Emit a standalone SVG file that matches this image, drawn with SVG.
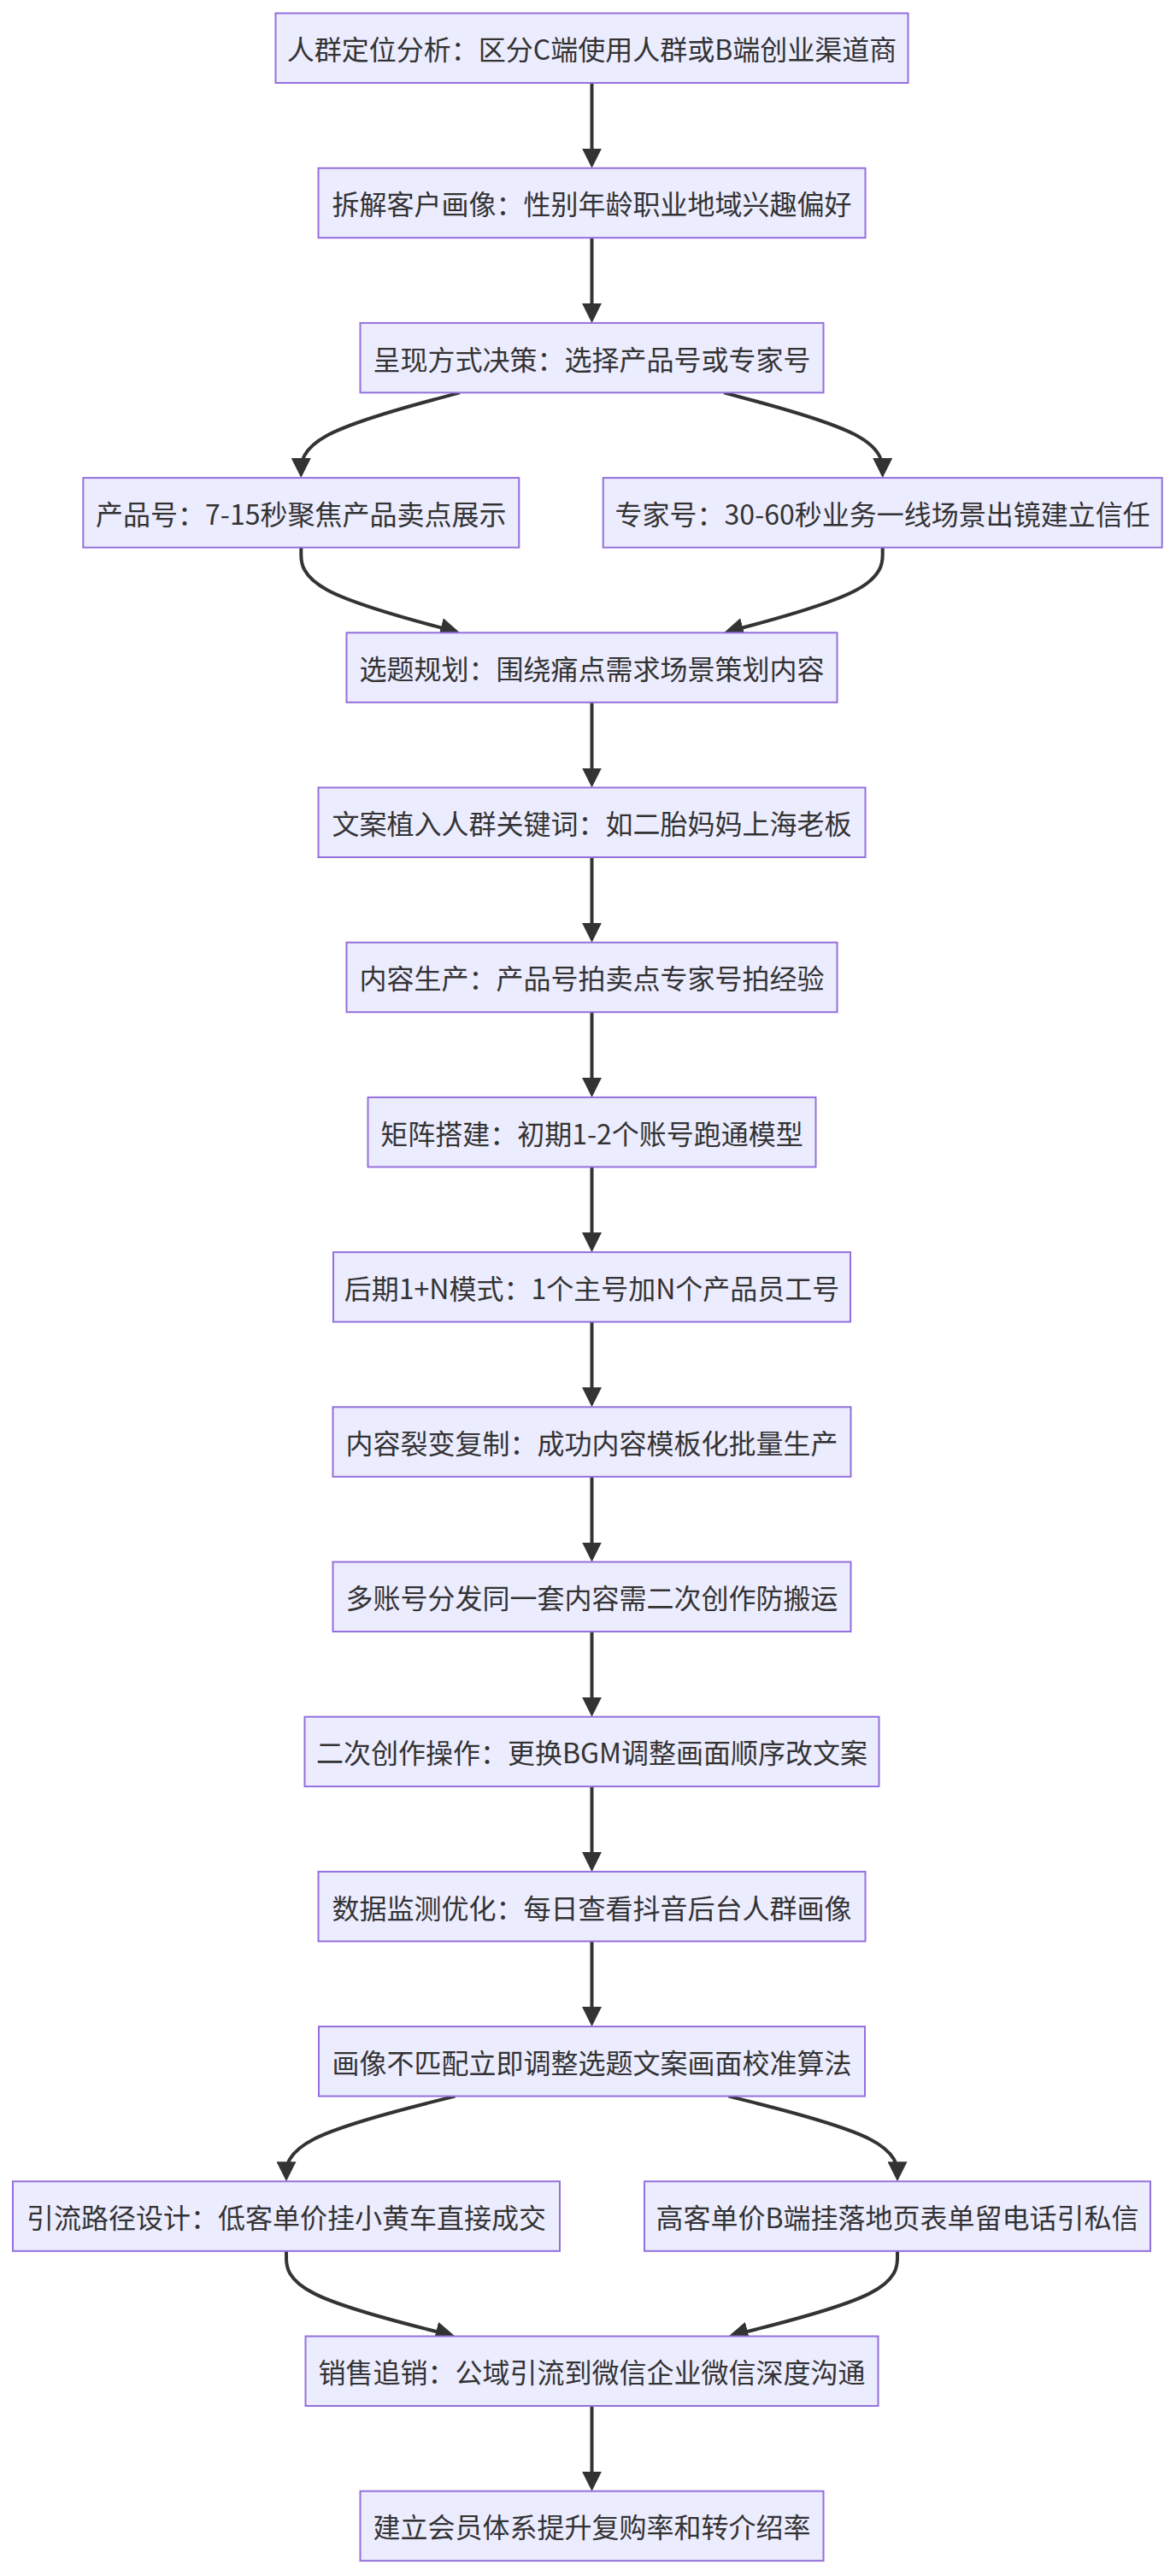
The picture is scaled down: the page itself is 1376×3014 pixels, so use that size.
<svg xmlns="http://www.w3.org/2000/svg" width="1376" height="3014" viewBox="0 0 1376 3014">
<style>
.node rect{fill:#ECECFF;stroke:#9370DB;stroke-width:2}
.node text{font-family:"Noto Sans CJK SC","Noto Sans",sans-serif;font-size:32px;fill:#333333;text-anchor:middle;dominant-baseline:central}
.edges path{fill:none;stroke:#333333;stroke-width:4;marker-end:url(#arrow)}
</style>
<defs>
<marker id="arrow" viewBox="0 0 10 10" refX="6.52" refY="5" markerWidth="23" markerHeight="23" markerUnits="userSpaceOnUse" orient="auto">
<path d="M0,0 L10,5 L0,10 z" fill="#333333"/>
</marker>
</defs>
<rect width="1376" height="3014" fill="#ffffff"/>
<g class="edges">
<path d="M692.5,97 L692.5,188.7"/>
<path d="M692.5,278.2 L692.5,369.9"/>
<path d="M538,459.4 L507.05,467.71 C476.1,476.02 414.2,492.63 383.25,509.25 C352.3,525.87 352.3,542.48 352.3,550.79 L352.3,551.1"/>
<path d="M847,459.4 L877.95,467.71 C908.9,476.02 970.8,492.63 1001.75,509.25 C1032.7,525.87 1032.7,542.48 1032.7,550.79 L1032.7,551.1"/>
<path d="M352.3,640.6 L352.3,648.91 C352.3,657.22 352.3,673.83 383.25,690.45 C414.2,707.07 476.1,723.68 507.05,731.99 L530.27,738.23"/>
<path d="M1032.7,640.6 L1032.7,648.91 C1032.7,657.22 1032.7,673.83 1001.75,690.45 C970.8,707.07 908.9,723.68 877.95,731.99 L854.73,738.23"/>
<path d="M692.5,821.8 L692.5,913.5"/>
<path d="M692.5,1003 L692.5,1094.7"/>
<path d="M692.5,1184.2 L692.5,1275.9"/>
<path d="M692.5,1365.4 L692.5,1457.1"/>
<path d="M692.5,1546.6 L692.5,1638.3"/>
<path d="M692.5,1727.8 L692.5,1819.5"/>
<path d="M692.5,1909 L692.5,2000.7"/>
<path d="M692.5,2090.2 L692.5,2181.9"/>
<path d="M692.5,2271.4 L692.5,2363.1"/>
<path d="M532.5,2452.6 L499.58,2460.91 C466.67,2469.22 400.83,2485.83 367.92,2502.45 C335,2519.07 335,2535.68 335,2543.99 L335,2544.3"/>
<path d="M852.5,2452.6 L885.42,2460.91 C918.33,2469.22 984.17,2485.83 1017.08,2502.45 C1050,2519.07 1050,2535.68 1050,2543.99 L1050,2544.3"/>
<path d="M335,2633.8 L335,2642.11 C335,2650.42 335,2667.03 367.92,2683.65 C400.83,2700.27 466.67,2716.88 499.58,2725.19 L524.74,2731.54"/>
<path d="M1050,2633.8 L1050,2642.11 C1050,2650.42 1050,2667.03 1017.08,2683.65 C984.17,2700.27 918.33,2716.88 885.42,2725.19 L860.26,2731.54"/>
<path d="M692.5,2815 L692.5,2906.7"/>
</g>
<g id="n0" class="node"><rect x="322.5" y="15.5" width="740" height="81.5"/><text x="692.5" y="56.25">人群定位分析：区分C端使用人群或B端创业渠道商</text></g>
<g id="n1" class="node"><rect x="372.5" y="196.7" width="640" height="81.5"/><text x="692.5" y="237.45">拆解客户画像：性别年龄职业地域兴趣偏好</text></g>
<g id="n2" class="node"><rect x="421.5" y="377.9" width="542" height="81.5"/><text x="692.5" y="418.65">呈现方式决策：选择产品号或专家号</text></g>
<g id="n3a" class="node"><rect x="97.3" y="559.1" width="510" height="81.5"/><text x="352.3" y="599.85">产品号：7-15秒聚焦产品卖点展示</text></g>
<g id="n3b" class="node"><rect x="705.7" y="559.1" width="654" height="81.5"/><text x="1032.7" y="599.85">专家号：30-60秒业务一线场景出镜建立信任</text></g>
<g id="n4" class="node"><rect x="405.5" y="740.3" width="574" height="81.5"/><text x="692.5" y="781.05">选题规划：围绕痛点需求场景策划内容</text></g>
<g id="n5" class="node"><rect x="372.5" y="921.5" width="640" height="81.5"/><text x="692.5" y="962.25">文案植入人群关键词：如二胎妈妈上海老板</text></g>
<g id="n6" class="node"><rect x="405.5" y="1102.7" width="574" height="81.5"/><text x="692.5" y="1143.45">内容生产：产品号拍卖点专家号拍经验</text></g>
<g id="n7" class="node"><rect x="430.5" y="1283.9" width="524" height="81.5"/><text x="692.5" y="1324.65">矩阵搭建：初期1-2个账号跑通模型</text></g>
<g id="n8" class="node"><rect x="390" y="1465.1" width="605" height="81.5"/><text x="692.5" y="1505.85">后期1+N模式：1个主号加N个产品员工号</text></g>
<g id="n9" class="node"><rect x="389.5" y="1646.3" width="606" height="81.5"/><text x="692.5" y="1687.05">内容裂变复制：成功内容模板化批量生产</text></g>
<g id="n10" class="node"><rect x="389.5" y="1827.5" width="606" height="81.5"/><text x="692.5" y="1868.25">多账号分发同一套内容需二次创作防搬运</text></g>
<g id="n11" class="node"><rect x="356.5" y="2008.7" width="672" height="81.5"/><text x="692.5" y="2049.45">二次创作操作：更换BGM调整画面顺序改文案</text></g>
<g id="n12" class="node"><rect x="372.5" y="2189.9" width="640" height="81.5"/><text x="692.5" y="2230.65">数据监测优化：每日查看抖音后台人群画像</text></g>
<g id="n13" class="node"><rect x="373" y="2371.1" width="639" height="81.5"/><text x="692.5" y="2411.85">画像不匹配立即调整选题文案画面校准算法</text></g>
<g id="n14a" class="node"><rect x="15" y="2552.3" width="640" height="81.5"/><text x="335" y="2593.05">引流路径设计：低客单价挂小黄车直接成交</text></g>
<g id="n14b" class="node"><rect x="754" y="2552.3" width="592" height="81.5"/><text x="1050" y="2593.05">高客单价B端挂落地页表单留电话引私信</text></g>
<g id="n15" class="node"><rect x="357.5" y="2733.5" width="670" height="81.5"/><text x="692.5" y="2774.25">销售追销：公域引流到微信企业微信深度沟通</text></g>
<g id="n16" class="node"><rect x="421.5" y="2914.7" width="542" height="81.5"/><text x="692.5" y="2955.45">建立会员体系提升复购率和转介绍率</text></g>
</svg>
